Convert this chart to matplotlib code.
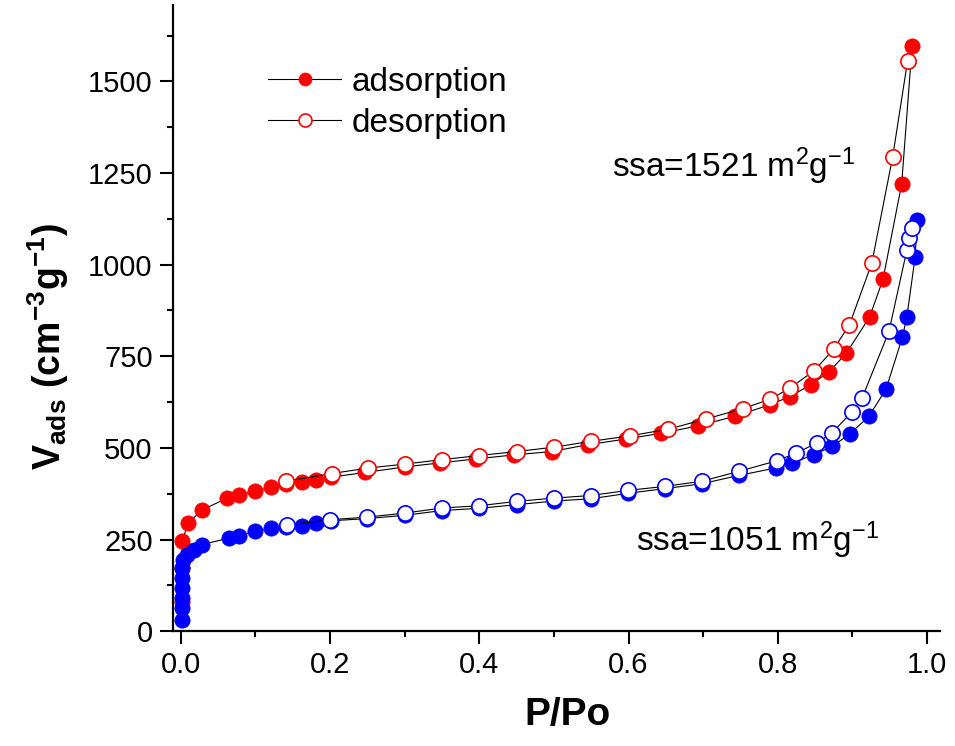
import numpy as np
import matplotlib
matplotlib.use("Agg")
import matplotlib.pyplot as plt
from matplotlib.ticker import MultipleLocator

plt.rcParams['font.family'] = ['Liberation Sans', 'DejaVu Sans']
plt.rcParams['mathtext.fontset'] = 'custom'
plt.rcParams['mathtext.rm'] = 'Liberation Sans'
plt.rcParams['mathtext.it'] = 'Liberation Sans'
plt.rcParams['mathtext.bf'] = 'Liberation Sans:bold'

# sample 1 (ssa=1521), red
red_ads_x = [0.001, 0.001, 0.002, 0.010, 0.029, 0.062, 0.078, 0.100, 0.121, 0.141, 0.162, 0.181,
             0.201, 0.247, 0.300, 0.347, 0.396, 0.447, 0.497, 0.546, 0.596, 0.644, 0.693, 0.742,
             0.790, 0.816, 0.844, 0.869, 0.892, 0.923, 0.941, 0.966, 0.980]
red_ads_y = [80, 173, 247, 296, 331, 363, 372, 382, 393, 402, 406, 413,
             420, 433, 448, 459, 470, 481, 490, 509, 524, 540, 560, 586,
             618, 640, 672, 708, 759, 857, 960, 1220, 1597]
red_des_x = [0.141, 0.202, 0.251, 0.301, 0.350, 0.399, 0.450, 0.500, 0.550, 0.602, 0.653,
             0.704, 0.753, 0.790, 0.816, 0.849, 0.875, 0.896, 0.926, 0.954, 0.974]
red_des_y = [409, 430, 445, 456, 468, 479, 490, 502, 518, 533, 551,
             579, 607, 633, 663, 711, 770, 836, 1004, 1295, 1557]

# sample 2 (ssa=1051), blue
blue_ads_x = [0.001, 0.001, 0.001, 0.001, 0.001, 0.001, 0.003, 0.008, 0.017, 0.028, 0.065, 0.078,
              0.100, 0.121, 0.141, 0.162, 0.181, 0.201, 0.249, 0.300, 0.350, 0.399, 0.450, 0.500,
              0.549, 0.599, 0.649, 0.698, 0.748, 0.797, 0.819, 0.848, 0.873, 0.897, 0.922, 0.945,
              0.967, 0.973, 0.984, 0.987]
blue_ads_y = [31, 64, 91, 119, 146, 173, 195, 209, 220, 236, 254, 260,
              273, 281, 285, 288, 296, 301, 307, 316, 329, 335, 345, 355,
              361, 376, 389, 402, 425, 445, 459, 481, 504, 539, 586, 660,
              802, 858, 1020, 1122]
blue_des_x = [0.142, 0.200, 0.249, 0.300, 0.350, 0.399, 0.450, 0.500, 0.549, 0.599, 0.649,
              0.698, 0.748, 0.799, 0.825, 0.852, 0.872, 0.900, 0.913, 0.949, 0.973, 0.976, 0.980]
blue_des_y = [290, 304, 311, 322, 336, 342, 354, 363, 370, 384, 395,
              409, 436, 465, 486, 513, 540, 599, 636, 818, 1040, 1072, 1100]

fig = plt.figure(figsize=(9.55, 7.46), dpi=100)
ax = fig.add_axes([0.181, 0.154, 0.803, 0.839])

ms = 11
lw = 0.8
h1, = ax.plot(red_ads_x, red_ads_y, '-o', color='black', lw=lw, ms=ms,
              mfc='red', mec='red', mew=0.5, label='adsorption')
h2, = ax.plot(red_des_x, red_des_y, '-o', color='black', lw=lw, ms=ms,
              mfc='white', mec='red', mew=1.2, label='desorption')
ax.plot(blue_ads_x, blue_ads_y, '-o', color='black', lw=lw, ms=ms,
        mfc='blue', mec='blue', mew=0.5)
ax.plot(blue_des_x, blue_des_y, '-o', color='black', lw=lw, ms=ms,
        mfc='white', mec='blue', mew=1.2)

ax.set_xlim(-0.0107, 1.017)
ax.set_ylim(0, 1708)

ax.xaxis.set_major_locator(MultipleLocator(0.2))
ax.xaxis.set_minor_locator(MultipleLocator(0.1))
ax.yaxis.set_major_locator(MultipleLocator(250))
ax.yaxis.set_minor_locator(MultipleLocator(125))
ax.xaxis.set_major_formatter(plt.FuncFormatter(lambda v, p: f"{v:.1f}"))

ax.spines['top'].set_visible(False)
ax.spines['right'].set_visible(False)
for s in ['left', 'bottom']:
    ax.spines[s].set_linewidth(1.6)
ax.tick_params(which='major', direction='out', length=9.5, width=1.5, labelsize=21, pad=5)
ax.tick_params(which='minor', direction='out', length=4.5, width=1.5)

ax.set_xlabel('P/Po', fontsize=28, fontweight='bold')
ax.xaxis.set_label_coords(0.514, -0.105)
ax.set_ylabel(r'$\mathbf{V_{ads}}$ $\mathbf{(cm^{-3}g^{-1})}$', fontsize=27)
ax.yaxis.set_label_coords(-0.133, 0.455)

ax.text(0.578, 1240, r'ssa=1521 m$^2$g$^{-1}$', fontsize=24)
ax.text(0.61, 217, r'ssa=1051 m$^2$g$^{-1}$', fontsize=24)

ax.legend(handles=[h1, h2], loc='upper left', bbox_to_anchor=(0.085, 0.949), frameon=False,
          fontsize=24, numpoints=1, handlelength=2.2, handletextpad=0.3,
          labelspacing=0.3, markerscale=0.85)

fig.savefig('out.png', dpi=100)
